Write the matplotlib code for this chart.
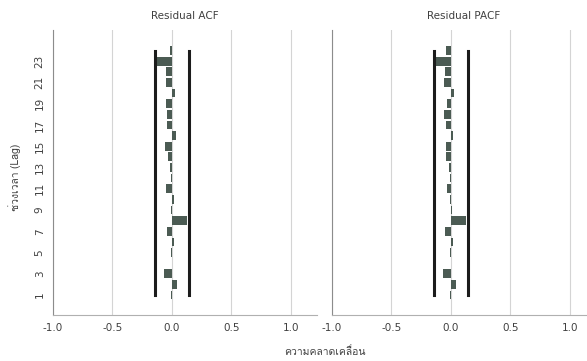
import matplotlib
matplotlib.use('Agg')
import matplotlib.pyplot as plt
from matplotlib import font_manager
from matplotlib.ft2font import FT2Font
import numpy as np

# ── Data ─────────────────────────────────────────────────────────────────────
LAGS = list(range(1, 25))
ACF = [-0.01, 0.04, -0.07, 0.0, -0.005, 0.02, -0.045, 0.13, -0.01, 0.02,
       -0.05, -0.005, -0.015, -0.03, -0.055, 0.035, -0.045, -0.045, -0.05, 0.03,
       -0.05, -0.05, -0.15, -0.02]
PACF = [-0.01, 0.04, -0.07, 0.0, -0.005, 0.02, -0.048, 0.13, 0.005, -0.005,
        -0.03, -0.005, -0.015, -0.04, -0.04, 0.02, -0.04, -0.056, -0.034, 0.028,
        -0.056, -0.05, -0.14, -0.04]
CONF = 0.14
TITLES = ["Residual ACF", "Residual PACF"]
XTICKS = [-1.0, -0.5, 0.0, 0.5, 1.0]
YTICKS = list(range(1, 24, 2))
YLABEL = "ช่วงเวลา (Lag)"
XLABEL = "ความคลาดเคลื่อน"

# ── Colours ──────────────────────────────────────────────────────────────────
C_BAR = "#4b5b53"
C_CONF = "#1c1c1c"
C_GRID = "#d4d4d4"
C_TEXT = "#404040"


def thai_family():
    """Find an installed family that can draw Thai, fall back to DejaVu."""
    for f in font_manager.fontManager.ttflist:
        try:
            if ord("ค") in FT2Font(f.fname).get_charmap():
                return f.name
        except Exception:
            continue
    return "DejaVu Sans"


THAI = [thai_family(), "DejaVu Sans"]
plt.rcParams.update({"font.family": "DejaVu Sans", "font.size": 7})

fig = plt.figure(figsize=(5.87, 3.61), dpi=100)
W, H = 587, 361
boxes = [(53, 30, 264, 285), (332, 30, 264, 285)]

for i, ((x0, y0, w, h), vals, title) in enumerate(zip(boxes, [ACF, PACF], TITLES)):
    ax = fig.add_axes([x0 / W, (H - y0 - h) / H, w / W, h / H])
    ax.set_xlim(-1.0, 1.22)
    ax.set_ylim(-0.88, 25.93)
    for xv in XTICKS:
        ax.axvline(xv, color=C_GRID, linewidth=0.8, zorder=0)
    ax.barh(LAGS, vals, height=0.82, color=C_BAR, zorder=2)
    ax.plot([-CONF, -CONF], [LAGS[0], LAGS[-1]], color=C_CONF, linewidth=2.2, zorder=3)
    ax.plot([CONF, CONF], [LAGS[0], LAGS[-1]], color=C_CONF, linewidth=2.2, zorder=3)

    ax.set_xticks(XTICKS)
    ax.set_xticklabels([f"{v:.1f}" for v in XTICKS], color=C_TEXT, fontsize=7.5)
    if i == 0:
        ax.set_yticks(YTICKS)
        ax.set_yticklabels([str(v) for v in YTICKS], rotation=90, va="center",
                           color=C_TEXT, fontsize=7.5)
    else:
        ax.set_yticks([])
    ax.tick_params(length=0, pad=6)
    for s in ["top", "right"]:
        ax.spines[s].set_visible(False)
    ax.spines["left"].set_color("#8c8c8c")
    ax.spines["bottom"].set_color("#b0b0b0")
    ax.set_title(title, color=C_TEXT, fontsize=7.5, pad=8)

fig.text(15 / W, 1 - 177 / H, YLABEL, rotation=90, ha="center", va="center",
         color=C_TEXT, fontsize=7.5, family=THAI)
fig.text(325 / W, 1 - 352 / H, XLABEL, ha="center", va="center",
         color=C_TEXT, fontsize=7.5, family=THAI)

fig.savefig("out.png", dpi=100)
